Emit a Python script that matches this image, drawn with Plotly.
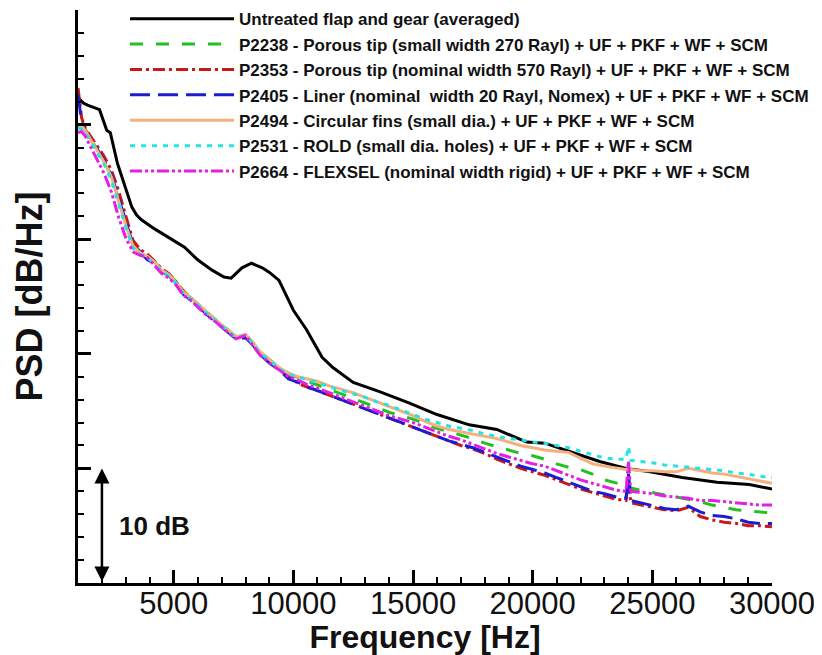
import plotly.graph_objects as go

# ---------------- data ----------------
untreated_freq = [1000, 1200, 1400, 1700, 1900, 2200, 2350, 2650, 2950, 3250, 3450, 3650, 4200, 4900, 5450,
                  6000, 6600, 7100, 7400, 7850, 8250, 8700, 9000, 9400, 10000, 10550, 11200, 11650, 12500, 13600,
                  14850, 16000, 17350, 18500, 19750, 20500, 21400, 22800, 23900, 24900, 26250, 27700, 29050, 30000]
untreated_psd = [42.4, 41.9, 41.7, 41.5, 41.3, 39.5, 39.3, 36.6, 34.6, 32.8, 32.1, 31.7, 30.9, 30.0, 29.3,
                 28.2, 27.3, 26.7, 26.6, 27.5, 27.9, 27.5, 27.1, 26.4, 23.8, 22.1, 19.7, 18.8, 17.5, 16.7,
                 15.7, 14.7, 13.8, 13.4, 12.3, 12.2, 11.6, 10.6, 10.0, 9.7, 9.2, 8.8, 8.6, 8.2]

freq = [1000, 1150, 1300, 1500, 1800, 2100, 2400, 2700, 3000, 3300, 3600, 3900, 4200, 4500, 4800,
        5100, 5400, 5700, 6000, 6400, 6800, 7200, 7600, 8000, 8300, 8600, 9000, 9400, 9800,
        10200, 10600, 11000, 11500, 12000, 12500, 13000, 13500, 14000, 14500, 15000, 15500, 16000,
        16500, 17000, 17500, 18000, 18500, 19000, 19500, 20000, 20500, 21000, 21500, 22000, 22500,
        23000, 23500, 23900, 24000, 24100, 24500, 25000, 25500, 26000, 26500, 27000, 27500, 28000,
        28500, 29000, 29500, 30000]

p2238 = [40.0, 39.9, 39.6, 38.9, 37.9, 36.8, 35.5, 33.4, 31.4, 29.6, 28.9, 28.6, 28.0, 27.4, 26.9,
         26.3, 25.4, 24.9, 24.4, 23.6, 22.9, 22.2, 21.5, 21.7, 21.0, 20.2, 19.5, 18.8, 18.3,
         17.9, 17.6, 17.3, 16.9, 16.5, 16.1, 15.7, 15.3, 14.9, 14.6, 14.3, 13.9, 13.5, 13.2, 12.9,
         12.6, 12.2, 11.9, 11.6, 11.3, 11.1, 10.8, 10.4, 10.1, 9.9, 9.5, 9.0, 8.7, 8.5, 8.7, 8.3,
         8.1, 7.9, 7.7, 7.5, 7.3, 7.1, 6.8, 6.6, 6.4, 6.3, 6.2, 6.1]
p2353 = [43.2, 40.6, 39.7, 39.1, 38.2, 37.2, 36.0, 34.2, 32.0, 29.9, 29.1, 28.7, 28.1, 27.4, 27.0,
         26.2, 25.5, 24.9, 24.3, 23.6, 22.8, 22.1, 21.4, 21.6, 20.9, 20.0, 19.3, 18.7, 18.1,
         17.4, 17.1, 16.8, 16.4, 16.0, 15.6, 15.2, 14.8, 14.4, 14.0, 13.6, 13.2, 12.8, 12.4, 12.0,
         11.7, 11.3, 10.8, 10.4, 10.0, 9.7, 9.4, 9.0, 8.6, 8.2, 7.9, 7.6, 7.3, 7.2, 9.0, 7.0,
         6.8, 6.6, 6.4, 6.3, 6.6, 5.8, 5.5, 5.3, 5.2, 5.0, 5.0, 4.9]
p2405 = [42.6, 40.3, 39.5, 38.9, 37.9, 36.8, 35.6, 33.6, 31.5, 29.5, 28.9, 28.2, 27.9, 27.2, 26.8,
         26.1, 25.2, 24.7, 24.2, 23.4, 22.7, 22.0, 21.3, 21.4, 20.8, 20.0, 19.2, 18.6, 17.8,
         17.5, 17.1, 16.8, 16.4, 16.0, 15.6, 15.2, 14.8, 14.4, 14.0, 13.6, 13.2, 12.8, 12.4, 12.1,
         11.8, 11.4, 11.0, 10.6, 10.2, 9.9, 9.6, 9.2, 8.8, 8.4, 8.0, 7.8, 7.5, 7.4, 9.6, 7.2,
         7.0, 6.8, 6.5, 6.4, 6.7, 6.2, 5.9, 5.8, 5.6, 5.3, 5.2, 5.2]
p2494 = [40.0, 39.9, 39.5, 38.8, 37.8, 36.7, 35.4, 33.2, 31.2, 29.4, 28.8, 28.5, 28.0, 27.3, 26.9,
         26.2, 25.4, 24.9, 24.4, 23.6, 22.9, 22.2, 21.5, 21.7, 21.0, 20.2, 19.5, 18.8, 18.3,
         18.0, 17.8, 17.6, 17.2, 16.9, 16.6, 16.2, 15.8, 15.4, 15.0, 14.6, 14.1, 13.7, 13.4, 13.2,
         13.0, 12.8, 12.6, 12.3, 12.0, 11.8, 11.6, 11.5, 11.4, 10.9, 10.4, 10.2, 10.0, 9.9, 10.0, 9.9,
         9.8, 9.8, 9.7, 9.7, 10.0, 9.8, 9.6, 9.5, 9.3, 9.1, 8.9, 8.7]
p2531 = [39.7, 39.6, 39.3, 38.6, 37.6, 36.5, 35.1, 33.0, 31.0, 29.2, 28.7, 28.4, 27.8, 27.2, 26.8,
         26.1, 25.3, 24.8, 24.3, 23.5, 22.8, 22.1, 21.4, 21.6, 20.9, 20.1, 19.4, 18.7, 18.2,
         18.0, 17.7, 17.5, 17.1, 16.8, 16.5, 16.2, 15.8, 15.5, 15.1, 14.7, 14.3, 14.0, 13.7, 13.5,
         13.3, 13.0, 12.8, 12.6, 12.5, 12.3, 12.2, 12.0, 11.8, 11.5, 11.2, 10.9, 10.8, 10.8, 11.9, 10.7,
         10.6, 10.5, 10.3, 10.2, 10.1, 10.0, 9.9, 9.8, 9.6, 9.5, 9.3, 9.2]
p2664 = [39.3, 39.4, 39.0, 38.2, 37.0, 35.7, 34.1, 31.9, 30.1, 28.9, 28.6, 28.4, 27.7, 27.0, 26.6,
         26.0, 25.1, 24.7, 24.1, 23.3, 22.7, 22.0, 21.3, 21.6, 20.8, 19.9, 19.2, 18.6, 18.0,
         17.7, 17.3, 17.0, 16.6, 16.2, 15.8, 15.4, 15.0, 14.6, 14.3, 14.0, 13.6, 13.2, 12.8, 12.5,
         12.1, 11.7, 11.3, 11.0, 10.7, 10.4, 10.2, 9.8, 9.4, 9.0, 8.7, 8.4, 8.1, 8.0, 10.6, 8.0,
         7.9, 7.8, 7.6, 7.5, 7.4, 7.2, 7.2, 7.1, 7.0, 6.9, 6.8, 6.8]

series_names = [
    "Untreated flap and gear (averaged)",
    "P2238 - Porous tip (small width 270 Rayl) + UF + PKF + WF + SCM",
    "P2353 - Porous tip (nominal width 570 Rayl) + UF + PKF + WF + SCM",
    "P2405 - Liner (nominal\u00a0 width 20 Rayl, Nomex) + UF + PKF + WF + SCM",
    "P2494 - Circular fins (small dia.) + UF + PKF + WF + SCM",
    "P2531 - ROLD (small dia. holes) + UF + PKF + WF + SCM",
    "P2664 - FLEXSEL (nominal width rigid) + UF + PKF + WF + SCM",
]
x_tick_values = [5000, 10000, 15000, 20000, 25000, 30000]
x_tick_labels = ["5000", "10000", "15000", "20000", "25000", "30000"]

# ---------------- styles ----------------
styles = [
    dict(color="#000000", width=3, dash="solid"),
    dict(color="#22c022", width=3, dash="13px,13px"),
    dict(color="#c81818", width=3, dash="12px,4px,3px,4px"),
    dict(color="#1c1cd0", width=3, dash="20px,8px"),
    dict(color="#f4b07c", width=3, dash="solid"),
    dict(color="#22e4e4", width=3, dash="5px,6px"),
    dict(color="#e41ee4", width=3, dash="12px,3px,3px,3px,3px,3px"),
]

xs = [untreated_freq, freq, freq, freq, freq, freq, freq]
ys = [untreated_psd, p2238, p2353, p2405, p2494, p2531, p2664]

fig = go.Figure()
for i, (x, y, name, st) in enumerate(zip(xs, ys, series_names, styles)):
    fig.add_trace(go.Scatter(x=x, y=y, mode="lines", name=name, line=st, legendgroup=f"g{i}"))

FONT = "Liberation Sans, Arial, sans-serif"

# the page body adds an 8 px offset, so the figure is 8 px smaller than the window
fig.update_layout(
    width=814, height=647,
    margin=dict(l=70, r=50, t=2, b=72, autoexpand=False),
    paper_bgcolor="white", plot_bgcolor="white",
    font=dict(family=FONT, color="#111111"),
    showlegend=True,
    legend=dict(
        x=0.0677, y=1.0155, xanchor="left", yanchor="top",
        bgcolor="rgba(0,0,0,0)", borderwidth=0,
        font=dict(family=FONT, size=17, color="#111111", weight="bold"),
        itemwidth=104, tracegroupgap=0.3,
    ),
    xaxis=dict(
        range=[1000, 30000], showgrid=False, zeroline=False,
        showline=True, linecolor="black", linewidth=3,
        tickmode="array", tickvals=x_tick_values, ticktext=x_tick_labels,
        ticks="inside", ticklen=13, tickwidth=2.5, tickcolor="black",
        ticklabelstandoff=-9,
        tickfont=dict(size=31, family=FONT, color="#111111"),
        minor=dict(dtick=1000, tick0=0, ticks="inside", ticklen=6, tickwidth=1.5, tickcolor="black", showgrid=False),
        title=dict(text="<b>Frequency [Hz]</b>", font=dict(size=32, family=FONT, color="#111111"), standoff=4),
    ),
    yaxis=dict(
        range=[0, 50], showgrid=False, zeroline=False,
        showline=True, linecolor="black", linewidth=3,
        tick0=0, dtick=10, showticklabels=False,
        ticks="inside", ticklen=13, tickwidth=2.5, tickcolor="black",
        minor=dict(dtick=2, tick0=0, ticks="inside", ticklen=6, tickwidth=1.5, tickcolor="black", showgrid=False),
        title=dict(text="<b>PSD [dB/Hz]</b>", font=dict(size=36, family=FONT, color="#111111"), standoff=22),
    ),
)

# 10 dB scale arrow
fig.add_annotation(x=2000, y=10, ax=2000, ay=0, xref="x", yref="y", axref="x", ayref="y",
                   text="", showarrow=True, arrowhead=2, arrowside="end+start",
                   arrowsize=1.2, arrowwidth=2.5, arrowcolor="black")
fig.add_annotation(x=2620, y=5, xref="x", yref="y", xanchor="left", yanchor="middle",
                   text="<b>10 dB</b>", showarrow=False,
                   font=dict(size=26, family=FONT, color="#111111"))

fig.write_html("out.html")
